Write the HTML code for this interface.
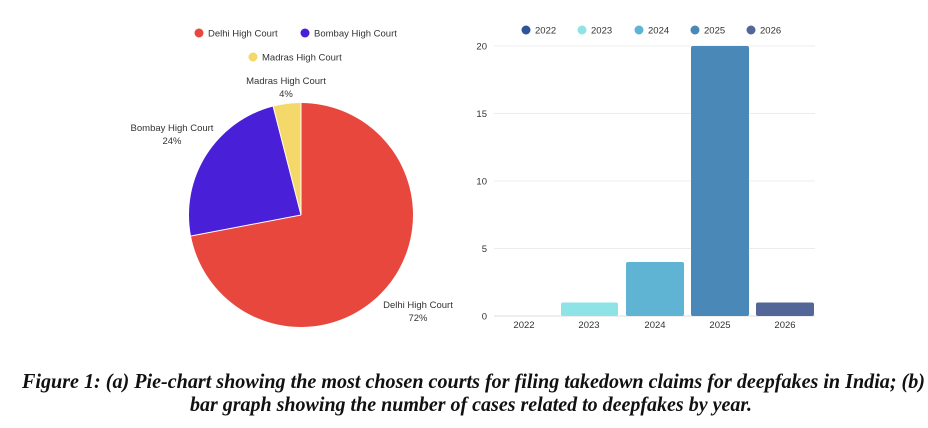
<!DOCTYPE html>
<html><head><meta charset="utf-8"><style>
html,body{margin:0;padding:0;background:#fff;}
svg{display:block;}
</style></head><body>
<svg width="928" height="428" viewBox="0 0 928 428" xmlns="http://www.w3.org/2000/svg" font-family="Liberation Sans, sans-serif">
<rect width="928" height="428" fill="#fff"/>
<circle cx="199" cy="33" r="4.5" fill="#e8473e"/>
<text x="208" y="36.5" font-size="9.5" fill="#333">Delhi High Court</text>
<circle cx="305" cy="33" r="4.5" fill="#4a1fd8"/>
<text x="314" y="36.5" font-size="9.5" fill="#333">Bombay High Court</text>
<circle cx="253" cy="57" r="4.5" fill="#f5d86a"/>
<text x="262" y="60.5" font-size="9.5" fill="#333">Madras High Court</text>
<path d="M301,215 L301,103 A112,112 0 1,1 190.98,235.99 Z" fill="#e8473e"/>
<path d="M301,215 L190.98,235.99 A112,112 0 0,1 273.15,106.52 Z" fill="#4a1fd8"/>
<path d="M301,215 L273.15,106.52 A112,112 0 0,1 301,103 Z" fill="#f5d86a"/>
<path d="M301,215 L301,103 M301,215 L190.98,235.99 M301,215 L273.15,106.52" stroke="#fff" stroke-width="1"/>
<text x="286" y="84" font-size="9.5" fill="#333" text-anchor="middle">Madras High Court</text>
<text x="286" y="97" font-size="9.5" fill="#333" text-anchor="middle">4%</text>
<text x="172" y="131" font-size="9.5" fill="#333" text-anchor="middle">Bombay High Court</text>
<text x="172" y="144" font-size="9.5" fill="#333" text-anchor="middle">24%</text>
<text x="418" y="308" font-size="9.5" fill="#333" text-anchor="middle">Delhi High Court</text>
<text x="418" y="321" font-size="9.5" fill="#333" text-anchor="middle">72%</text>
<circle cx="526" cy="30" r="4.5" fill="#2f5596"/><text x="535" y="33.5" font-size="9.5" fill="#333">2022</text>
<circle cx="582" cy="30" r="4.5" fill="#8ee3e6"/><text x="591" y="33.5" font-size="9.5" fill="#333">2023</text>
<circle cx="639" cy="30" r="4.5" fill="#5fb3d3"/><text x="648" y="33.5" font-size="9.5" fill="#333">2024</text>
<circle cx="695" cy="30" r="4.5" fill="#4a88b8"/><text x="704" y="33.5" font-size="9.5" fill="#333">2025</text>
<circle cx="751" cy="30" r="4.5" fill="#526797"/><text x="760" y="33.5" font-size="9.5" fill="#333">2026</text>
<g stroke="#ececec" stroke-width="1">
<line x1="494" y1="46" x2="815" y2="46"/>
<line x1="494" y1="113.5" x2="815" y2="113.5"/>
<line x1="494" y1="181" x2="815" y2="181"/>
<line x1="494" y1="248.5" x2="815" y2="248.5"/>
<line x1="494" y1="316" x2="815" y2="316" stroke="#ddd"/>
</g>
<g font-size="9.5" fill="#333" text-anchor="end">
<text x="487" y="49.5">20</text>
<text x="487" y="117">15</text>
<text x="487" y="184.5">10</text>
<text x="487" y="252">5</text>
<text x="487" y="319.5">0</text>
</g>
<rect x="561" y="302.5" width="57" height="13.5" rx="2" fill="#8ee3e6"/>
<rect x="626" y="262" width="58" height="54" rx="2" fill="#5fb3d3"/>
<rect x="691" y="46" width="58" height="270" rx="2" fill="#4a88b8"/>
<rect x="756" y="302.5" width="58" height="13.5" rx="2" fill="#526797"/>
<g font-size="9.5" fill="#333" text-anchor="middle">
<text x="524" y="328">2022</text>
<text x="589" y="328">2023</text>
<text x="655" y="328">2024</text>
<text x="720" y="328">2025</text>
<text x="785" y="328">2026</text>
</g>
<g font-family="Liberation Serif, serif" font-weight="bold" font-style="italic" font-size="21" fill="#111">
<text x="22" y="388" textLength="903" lengthAdjust="spacingAndGlyphs">Figure 1: (a) Pie-chart showing the most chosen courts for filing takedown claims for deepfakes in India; (b)</text>
<text x="190" y="411" textLength="562" lengthAdjust="spacingAndGlyphs">bar graph showing the number of cases related to deepfakes by year.</text>
</g>
</svg>
</body></html>
